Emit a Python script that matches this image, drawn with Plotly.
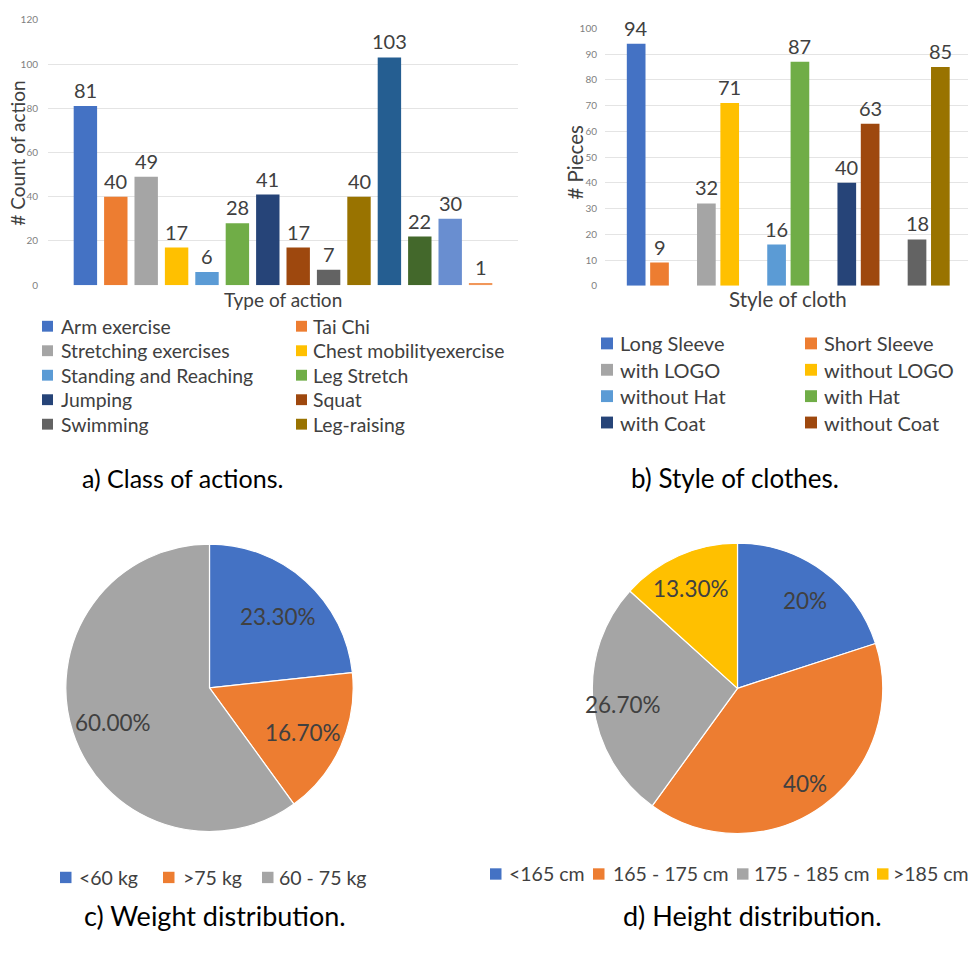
import math
import plotly.graph_objects as go

W, H = 974, 958
FONT = "Lato, 'Open Sans', sans-serif"
TXT = "#404040"

# a) Class of actions
action_counts = [81, 40, 49, 17, 6, 28, 41, 17, 7, 40, 103, 22, 30, 1]
action_colors = ["#4472C4", "#ED7D31", "#A5A5A5", "#FFC000", "#5B9BD5", "#70AD47",
                 "#264478", "#9E480E", "#636363", "#997300", "#255E91", "#43682B",
                 "#698ED0", "#F1975A"]
action_legend = ["Arm exercise", "Tai Chi", "Stretching exercises", "Chest mobilityexercise",
                 "Standing and Reaching", "Leg Stretch", "Jumping", "Squat",
                 "Swimming", "Leg-raising"]
action_ticks = [0, 20, 40, 60, 80, 100, 120]

# b) Style of clothes (pairs: first / second bar of each group)
cloth_first = [94, 32, 16, 40, 18]
cloth_second = [9, 71, 87, 63, 85]
cloth_first_colors = ["#4472C4", "#A5A5A5", "#5B9BD5", "#264478", "#636363"]
cloth_second_colors = ["#ED7D31", "#FFC000", "#70AD47", "#9E480E", "#997300"]
cloth_legend = ["Long Sleeve", "Short Sleeve", "with LOGO", "without LOGO",
                "without Hat", "with Hat", "with Coat", "without Coat"]
cloth_ticks = [0, 10, 20, 30, 40, 50, 60, 70, 80, 90, 100]

# c) Weight distribution (%)
weight_labels = ["<60 kg", ">75 kg", "60 - 75 kg"]
weight_share = [23.3, 16.7, 60.0]
weight_colors = ["#4472C4", "#ED7D31", "#A5A5A5"]

# d) Height distribution (%)
height_labels = ["<165 cm", "165 - 175 cm", "175 - 185 cm", ">185 cm"]
height_share = [20, 40, 26.7, 13.3]
height_colors = ["#4472C4", "#ED7D31", "#A5A5A5", "#FFC000"]


def px(x):
    return x / W


def py(y):
    return 1 - y / H


fig = go.Figure()
annotations = []
shapes = []

# ---- bar chart a
a_x = list(range(len(action_counts)))
fig.add_trace(go.Bar(
    x=a_x, y=action_counts,
    marker=dict(color=action_colors, line=dict(width=0)),
    width=0.77, xaxis="x", yaxis="y", showlegend=False,
))

# ---- bar chart b (grouped pairs)
groups = list(range(len(cloth_first)))
for vals, cols in ((cloth_first, cloth_first_colors), (cloth_second, cloth_second_colors)):
    fig.add_trace(go.Bar(
        x=groups, y=vals,
        marker=dict(color=cols, line=dict(width=0)),
        xaxis="x2", yaxis="y2", showlegend=False,
    ))

BAR_GAP, GROUP_GAP = 0.335, 0.2
SLOT = (1 - BAR_GAP) / 2  # width of one bar slot inside a group, in x units


def value_label(xref, yref, x, y):
    annotations.append(dict(
        x=x, y=y, xref=xref, yref=yref, text=str(y), showarrow=False,
        xanchor="center", yanchor="middle", yshift=16,
        font=dict(family=FONT, size=20, color=TXT)))


for xi, v in zip(a_x, action_counts):
    value_label("x", "y", xi, v)
for g, v1, v2 in zip(groups, cloth_first, cloth_second):
    value_label("x2", "y2", g - SLOT / 2, v1)
    value_label("x2", "y2", g + SLOT / 2, v2)

# ---- pies
PIE_C = dict(cx=209.5, cy=690.5, r=145.5)
PIE_D = dict(cx=737.5, cy=691.0, r=147.0)
for share, cols, labs, p in ((weight_share, weight_colors, weight_labels, PIE_C),
                             (height_share, height_colors, height_labels, PIE_D)):
    fig.add_trace(go.Pie(
        values=share, labels=labs, sort=False, direction="clockwise", rotation=0,
        marker=dict(colors=cols, line=dict(color="white", width=1.2)),
        textinfo="none", showlegend=False, hoverinfo="label+value",
        domain=dict(x=[px(p["cx"] - p["r"]), px(p["cx"] + p["r"])],
                    y=[py(p["cy"] + p["r"]), py(p["cy"] - p["r"])]),
    ))


def label(x, y, text, size, color=TXT, anchor="center", angle=0):
    annotations.append(dict(
        x=px(x), y=py(y), xref="paper", yref="paper", text=text, showarrow=False,
        xanchor=anchor, yanchor="middle", textangle=angle,
        font=dict(family=FONT, size=size, color=color)))


def swatch(x, y, size, color):
    shapes.append(dict(type="rect", xref="paper", yref="paper",
                       x0=px(x), x1=px(x + size), y0=py(y + size / 2), y1=py(y - size / 2),
                       fillcolor=color, line=dict(width=0)))


# slice value labels, placed along each slice's bisector
def pie_labels(values, p, frac, fmt):
    total = sum(values)
    acc = 0.0
    for v in values:
        mid = (acc + v / 2) / total * 2 * math.pi
        acc += v
        lx = p["cx"] + frac * p["r"] * math.sin(mid)
        ly = p["cy"] - frac * p["r"] * math.cos(mid) + 4
        label(lx, ly, fmt(v), 22.5)


pie_labels(weight_share, PIE_C, 0.70, lambda v: f"{v:.2f}%")
pie_labels(height_share, PIE_D, 0.78,
           lambda v: f"{v:.0f}%" if float(v).is_integer() else f"{v:.2f}%")

# axis titles
label(17.5, 149, "# Count of action", 19, angle=-90)
label(282.5, 297, "Type of action", 19)
label(575.5, 158, "# Pieces", 20.5, angle=-90)
label(787.5, 297, "Style of cloth", 20.5)

# legend a (two columns)
for i, name in enumerate(action_legend):
    col, row = i % 2, i // 2
    y = 324.3 + 24.8 * row
    swatch([42, 296][col], y, 11, action_colors[i])
    label([59, 311][col], y, name, 19.4, anchor="left")

# legend b (two columns)
cloth_legend_colors = []
for a, b in zip(cloth_first_colors, cloth_second_colors):
    cloth_legend_colors += [a, b]
for i, name in enumerate(cloth_legend):
    col, row = i % 2, i // 2
    y = 341.7 + 26.7 * row
    swatch([601, 805][col], y, 12, cloth_legend_colors[i])
    label([618, 822][col], y, name, 20, anchor="left")

# legend c
for name, color, mx, tx in zip(weight_labels, weight_colors, [60, 163, 262], [77, 181, 277]):
    swatch(mx, 882.5, 11.5, color)
    label(tx, 882.5, name, 19.5, anchor="left")

# legend d
for name, color, mx, tx in zip(height_labels, height_colors, [490, 593, 737, 877],
                               [507, 611, 752, 891]):
    swatch(mx, 879, 11.5, color)
    label(tx, 879, name, 19.5, anchor="left")

# captions
label(182.5, 478, "a) Class of actions.", 25, color="#000000")
label(735, 478, "b) Style of clothes.", 26, color="#000000")
label(215, 921, "c) Weight distribution.", 27, color="#000000")
label(752.5, 921.5, "d) Height distribution.", 27, color="#000000")

grid = "#e4e4e4"
tickfont = dict(family=FONT, size=10, color="#7f7f7f")

fig.update_layout(
    width=W, height=H, margin=dict(l=0, r=0, t=0, b=0),
    paper_bgcolor="white", plot_bgcolor="white",
    barmode="group", bargap=BAR_GAP, bargroupgap=GROUP_GAP,
    xaxis=dict(domain=[px(48), px(518)], range=[-1.23, 14.23], showticklabels=False,
               showgrid=False, zeroline=False, showline=False, ticks=""),
    yaxis=dict(domain=[py(282.7), py(14)], range=[0, 120], tickvals=action_ticks,
               showgrid=True, gridcolor=grid, gridwidth=1, zeroline=False, showline=False,
               ticks="", ticklabelstandoff=9, tickfont=tickfont),
    xaxis2=dict(domain=[px(605), px(968)], range=[-0.61, 4.56], showticklabels=False,
                showgrid=False, zeroline=False, showline=False, ticks="", anchor="y2"),
    yaxis2=dict(domain=[py(283.3), py(22.7)], range=[0, 100], tickvals=cloth_ticks,
                showgrid=True, gridcolor=grid, gridwidth=1, zeroline=False, showline=False,
                ticks="", ticklabelstandoff=7, tickfont=tickfont, anchor="x2"),
    annotations=annotations, shapes=shapes,
)

fig.write_html("out.html")
